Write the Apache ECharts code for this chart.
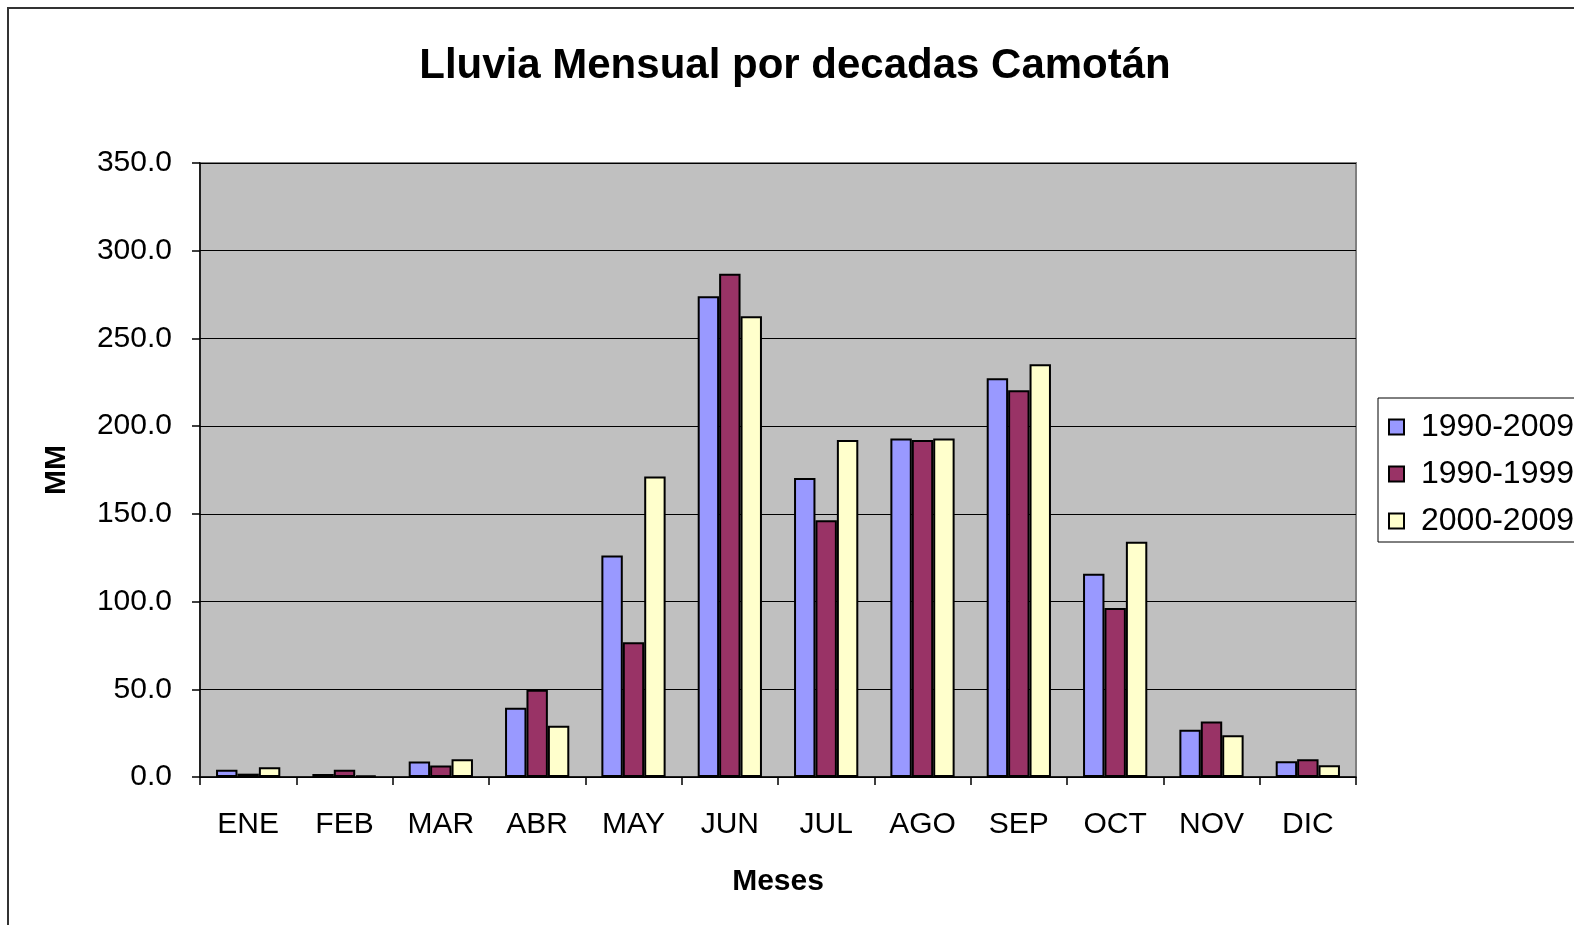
<!DOCTYPE html>
<html lang="es">
<head>
<meta charset="UTF-8">
<title>Lluvia Mensual por decadas Camotán</title>
<script src="https://cdn.jsdelivr.net/npm/echarts@6/dist/echarts.min.js"></script>
<style>
    html, body { margin: 0; padding: 0; background: #fff; overflow: hidden; }
    #chart { width: 1574px; height: 925px; }
</style>
</head>
<body>
<div id="chart"></div>
<script>
    var meses = ['ENE', 'FEB', 'MAR', 'ABR', 'MAY', 'JUN', 'JUL', 'AGO', 'SEP', 'OCT', 'NOV', 'DIC'];
    var serie1990_2009 = [4.2, 1.7, 8.8, 39.5, 126.3, 274.1, 170.4, 193.0, 227.3, 115.8, 27.0, 9.0];
    var serie1990_1999 = [1.9, 4.2, 6.5, 49.8, 76.8, 286.8, 146.4, 192.1, 220.4, 96.4, 31.6, 10.1];
    var serie2000_2009 = [5.5, 0.9, 10.1, 29.2, 171.3, 262.7, 192.1, 193.0, 235.3, 134.1, 23.8, 6.7];

    var fuente = 'Arial, "Liberation Sans", sans-serif';

    function barra(nombre, datos, color) {
        return {
            name: nombre,
            type: 'bar',
            data: datos,
            barGap: 0,
            barCategoryGap: '33.3%',
            itemStyle: { color: color, borderColor: '#000', borderWidth: 2 }
        };
    }

    var chart = echarts.init(document.getElementById('chart'));
    chart.setOption({
        animation: false,
        backgroundColor: '#fff',
        textStyle: { fontFamily: fuente },
        title: {
            text: 'Lluvia Mensual por decadas Camotán',
            left: 795,
            textAlign: 'center',
            top: 45,
            padding: 0,
            textStyle: { fontSize: 42, fontWeight: 'bold', color: '#000', fontFamily: fuente }
        },
        graphic: [{
            type: 'rect',
            shape: { x: 8, y: 8, width: 2000, height: 2000 },
            style: { fill: 'none', stroke: '#333', lineWidth: 2 },
            silent: true
        }],
        legend: {
            orient: 'vertical',
            left: 1378,
            top: 398,
            backgroundColor: '#fff',
            borderColor: '#000',
            borderWidth: 1,
            padding: [12, 20, 4, 10],
            itemWidth: 15,
            itemHeight: 15,
            itemGap: 13,
            icon: 'rect',
            textStyle: { fontSize: 32, color: '#000', lineHeight: 34, padding: [0, 0, 0, 12], fontFamily: fuente },
            data: ['1990-2009', '1990-1999', '2000-2009']
        },
        grid: {
            left: 200,
            right: 218,
            top: 163,
            bottom: 148,
            show: true,
            backgroundColor: '#c0c0c0',
            borderColor: '#808080',
            borderWidth: 2
        },
        xAxis: {
            type: 'category',
            data: meses,
            name: 'Meses',
            nameLocation: 'middle',
            nameGap: 90,
            nameTextStyle: { fontSize: 30, fontWeight: 'bold', color: '#000', fontFamily: fuente },
            axisLine: { lineStyle: { color: '#000', width: 1.5 } },
            axisTick: { show: true, length: 8, lineStyle: { color: '#000', width: 1.5 } },
            axisLabel: { fontSize: 30, color: '#000', margin: 33, fontFamily: fuente }
        },
        yAxis: {
            type: 'value',
            min: 0,
            max: 350,
            interval: 50,
            name: 'MM',
            nameLocation: 'middle',
            nameRotate: 90,
            nameGap: 128,
            nameTextStyle: { fontSize: 30, fontWeight: 'bold', color: '#000', fontFamily: fuente },
            axisLine: { show: true, lineStyle: { color: '#000', width: 1.5 } },
            axisTick: { show: true, length: 8, lineStyle: { color: '#000', width: 1.5 } },
            axisLabel: {
                fontSize: 30, color: '#000', margin: 28, fontFamily: fuente,
                formatter: function (v) { return v.toFixed(1); }
            },
            splitLine: { show: true, lineStyle: { color: '#000', width: 1 } }
        },
        series: [
            barra('1990-2009', serie1990_2009, '#9999ff'),
            barra('1990-1999', serie1990_1999, '#993366'),
            barra('2000-2009', serie2000_2009, '#ffffcc')
        ]
    });
</script>
</body>
</html>
